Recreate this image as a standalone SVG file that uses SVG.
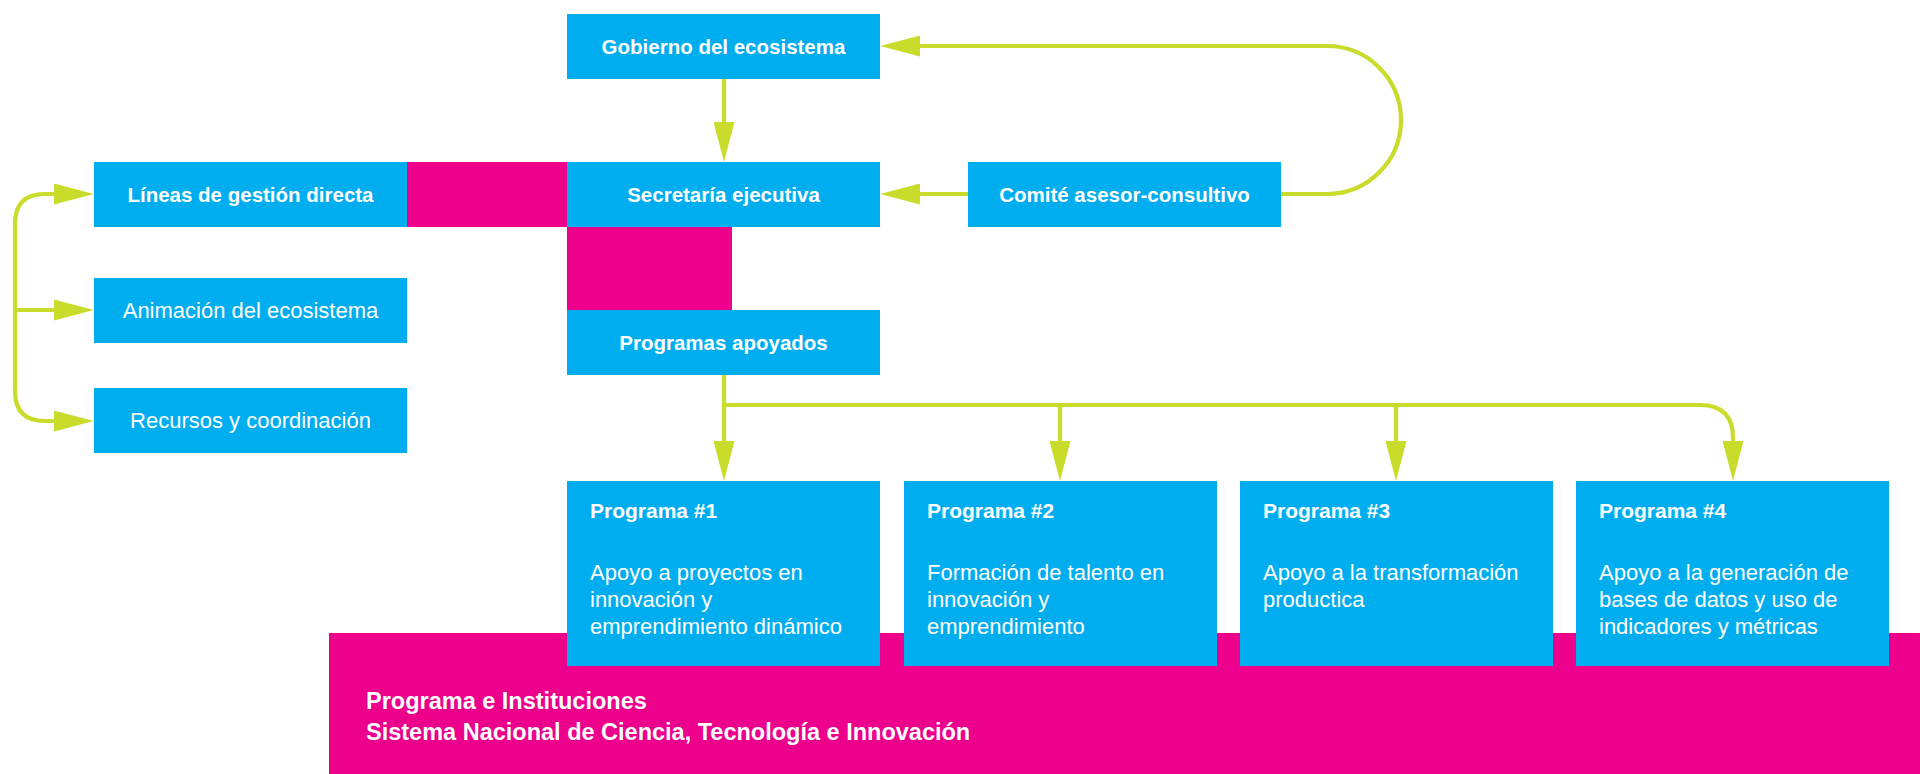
<svg xmlns="http://www.w3.org/2000/svg" width="1920" height="774" viewBox="0 0 1920 774">
<style>
.box{fill:#00AEEF}
.mag{fill:#EC008C}
.b{font-family:"Liberation Sans",Arial,sans-serif;font-weight:bold;font-size:20.5px;fill:#fff}
.r{font-family:"Liberation Sans",Arial,sans-serif;font-size:22px;fill:#fff}
.t{font-family:"Liberation Sans",Arial,sans-serif;font-weight:bold;font-size:21px;fill:#fff}
.big{font-family:"Liberation Sans",Arial,sans-serif;font-weight:bold;font-size:23.5px;fill:#fff}
.c{fill:none;stroke:#C9DC2B;stroke-width:4.2}
</style>
<defs>
<marker id="ah" markerUnits="userSpaceOnUse" markerWidth="40" markerHeight="21" refX="0" refY="10.5" orient="auto" viewBox="0 0 40 21">
<path d="M0,0 L40,10.5 L0,21 Z" fill="#C9DC2B"/>
</marker>
</defs>
<rect width="1920" height="774" fill="#fff"/>
<g id="base">
<rect class="mag" x="329" y="633" width="1591" height="141"/>
<text class="big" x="366" y="709">Programa e Instituciones</text>
<text class="big" x="366" y="740">Sistema Nacional de Ciencia, Tecnología e Innovación</text>
</g>
<g id="magenta-links">
<rect class="mag" x="407" y="162" width="160" height="65"/>
<rect class="mag" x="567" y="227" width="165" height="83"/>
</g>
<g id="connectors">
<path class="c" d="M724 79 V122" marker-end="url(#ah)"/>
<path class="c" d="M968 194 H920" marker-end="url(#ah)"/>
<path class="c" d="M1281 194 H1327 A74 74 0 0 0 1327 46 H920" marker-end="url(#ah)"/>
<path class="c" d="M724 375 V441" marker-end="url(#ah)"/>
<path class="c" d="M724 405 H1700 Q1733 405 1733 438 V441" marker-end="url(#ah)"/>
<path class="c" d="M1060 405 V441" marker-end="url(#ah)"/>
<path class="c" d="M1396 405 V441" marker-end="url(#ah)"/>
<path class="c" d="M15 310 V224 Q15 194 45 194 H54" marker-end="url(#ah)"/>
<path class="c" d="M15 310 V391 Q15 421 45 421 H54" marker-end="url(#ah)"/>
<path class="c" d="M15 310 H54" marker-end="url(#ah)"/>
</g>
<g id="gobierno">
<rect class="box" x="567" y="14" width="313" height="65"/>
<text class="b" x="723.5" y="54" text-anchor="middle">Gobierno del ecosistema</text>
</g>
<g id="secretaria">
<rect class="box" x="567" y="162" width="313" height="65"/>
<text class="b" x="723.5" y="202" text-anchor="middle">Secretaría ejecutiva</text>
</g>
<g id="programas-apoyados">
<rect class="box" x="567" y="310" width="313" height="65"/>
<text class="b" x="723.5" y="350" text-anchor="middle">Programas apoyados</text>
</g>
<g id="comite">
<rect class="box" x="968" y="162" width="313" height="65"/>
<text class="b" x="1124.5" y="202" text-anchor="middle">Comité asesor-consultivo</text>
</g>
<g id="lineas">
<rect class="box" x="94" y="162" width="313" height="65"/>
<text class="b" x="250.5" y="202" text-anchor="middle">Líneas de gestión directa</text>
</g>
<g id="animacion">
<rect class="box" x="94" y="278" width="313" height="65"/>
<text class="r" x="250.5" y="318" text-anchor="middle">Animación del ecosistema</text>
</g>
<g id="recursos">
<rect class="box" x="94" y="388" width="313" height="65"/>
<text class="r" x="250.5" y="428" text-anchor="middle">Recursos y coordinación</text>
</g>
<g id="programa1">
<rect class="box" x="567" y="481" width="313" height="185"/>
<text class="t" x="590" y="518">Programa #1</text>
<text class="r" x="590" y="580">Apoyo a proyectos en</text>
<text class="r" x="590" y="607">innovación y</text>
<text class="r" x="590" y="634">emprendimiento dinámico</text>
</g>
<g id="programa2">
<rect class="box" x="904" y="481" width="313" height="185"/>
<text class="t" x="927" y="518">Programa #2</text>
<text class="r" x="927" y="580">Formación de talento en</text>
<text class="r" x="927" y="607">innovación y</text>
<text class="r" x="927" y="634">emprendimiento</text>
</g>
<g id="programa3">
<rect class="box" x="1240" y="481" width="313" height="185"/>
<text class="t" x="1263" y="518">Programa #3</text>
<text class="r" x="1263" y="580">Apoyo a la transformación</text>
<text class="r" x="1263" y="607">productica</text>
</g>
<g id="programa4">
<rect class="box" x="1576" y="481" width="313" height="185"/>
<text class="t" x="1599" y="518">Programa #4</text>
<text class="r" x="1599" y="580">Apoyo a la generación de</text>
<text class="r" x="1599" y="607">bases de datos y uso de</text>
<text class="r" x="1599" y="634">indicadores y métricas</text>
</g>
</svg>
